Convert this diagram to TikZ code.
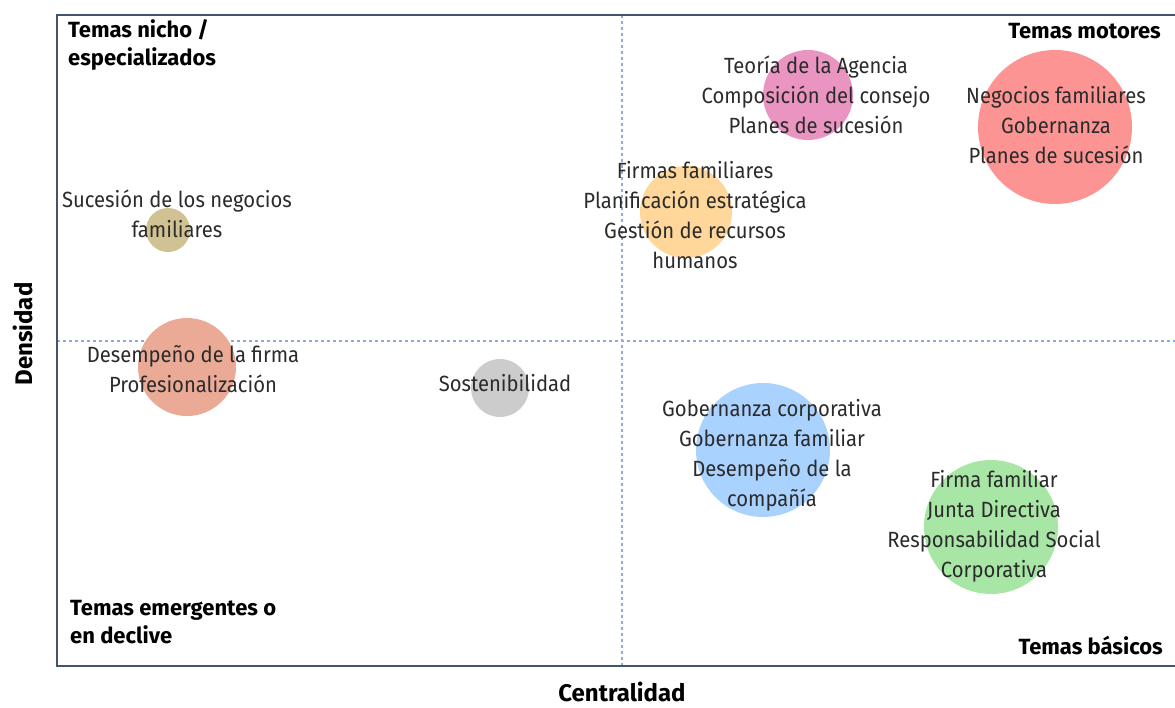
\documentclass[tikz,border=0pt]{standalone}
\usepackage{fontspec}
\setmainfont{Fira Sans}[FakeStretch=0.92,BoldFeatures={FakeStretch=1.0}]
\definecolor{framecol}{HTML}{44546A}
\definecolor{dashcol}{HTML}{8FAADC}
\definecolor{txt}{HTML}{2B2B2B}
\definecolor{cpink}{HTML}{EA94C2}
\definecolor{cred}{HTML}{FC9494}
\definecolor{ctan}{HTML}{D1C293}
\definecolor{corange}{HTML}{FFD79A}
\definecolor{csalmon}{HTML}{EAAA95}
\definecolor{cgrey}{HTML}{CCCCCC}
\definecolor{cblue}{HTML}{AAD2FF}
\definecolor{cgreen}{HTML}{A8E6A6}
\begin{document}
\begin{tikzpicture}[x=1pt,y=-1pt,
  bubble/.style={circle,inner sep=0pt,draw=none},
  lbl/.style={align=center,text=txt,font=\fontsize{22}{30}\selectfont,inner sep=0pt},
  quad/.style={text=black,font=\fontsize{22}{28.5}\selectfont\bfseries,inner sep=0pt},
  axis/.style={text=black,font=\fontsize{24}{28}\selectfont\bfseries,inner sep=0pt},
  framel/.style={draw=framecol,line width=1.8pt},
  guide/.style={draw=dashcol,line width=1.2pt,dash pattern=on 3pt off 3pt}]
\useasboundingbox (0,0) rectangle (1175,707);
% guides
\coordinate (vt) at (622,15); \coordinate (vb) at (622,666);
\coordinate (hl) at (57,341); \coordinate (hr) at (1175,341);
\draw[guide] (vt) -- (vb);
\draw[guide] (hl) -- (hr);
% frame
\coordinate (tl) at (57,15); \coordinate (tr) at (1175,15);
\coordinate (bl) at (57,666); \coordinate (br) at (1175,666);
\draw[framel] (tr) -- (tl) -- (bl) -- (br);
% bubbles
\node[bubble,fill=cpink,minimum size=90pt] (bpink) at (808,95) {};
\node[bubble,fill=cred,minimum size=154pt] (bred) at (1055,127) {};
\node[bubble,fill=ctan,minimum size=44pt] (btan) at (168,230) {};
\node[bubble,fill=corange,minimum size=92pt] (borange) at (686,212) {};
\node[bubble,fill=csalmon,minimum size=98pt] (bsalmon) at (187,367) {};
\node[bubble,fill=cgrey,minimum size=58pt] (bgrey) at (500,388) {};
\node[bubble,fill=cblue,minimum size=134pt] (bblue) at (763,450) {};
\node[bubble,fill=cgreen,minimum size=134pt] (bgreen) at (991,527) {};
% labels
\node[lbl] (tpink) at (816,95) {Teoría de la Agencia\\Composición del consejo\\Planes de sucesión};
\node[lbl] (tred) at (1056,125) {Negocios familiares\\Gobernanza\\Planes de sucesión};
\node[lbl] (ttan) at (177,214) {Sucesión de los negocios\\familiares};
\node[lbl] (torange) at (695,215) {Firmas familiares\\Planificación estratégica\\Gestión de recursos\\humanos};
\node[lbl] (tsalmon) at (193,369) {Desempeño de la firma\\Profesionalización};
\node[lbl] (tgrey) at (505,383) {Sostenibilidad};
\node[lbl] (tblue) at (772,455) {Gobernanza corporativa\\Gobernanza familiar\\Desempeño de la\\compañía};
\node[lbl] (tgreen) at (994,526) {Firma familiar\\Junta Directiva\\Responsabilidad Social\\Corporativa};
% quadrant titles
\node[quad,align=left,anchor=west] (qnicho) at (68,45) {Temas nicho /\\especializados};
\node[quad,anchor=east] (qmot) at (1161,31) {Temas motores};
\node[quad,align=left,anchor=west] (qemer) at (70,622) {Temas emergentes o\\en declive};
\node[quad,anchor=east] (qbas) at (1163,645) {Temas básicos};
% axes
\node[axis] (xlab) at (622,692) {Centralidad};
\node[axis,rotate=90] (ylab) at (23,334) {Densidad};
\end{tikzpicture}
\end{document}
